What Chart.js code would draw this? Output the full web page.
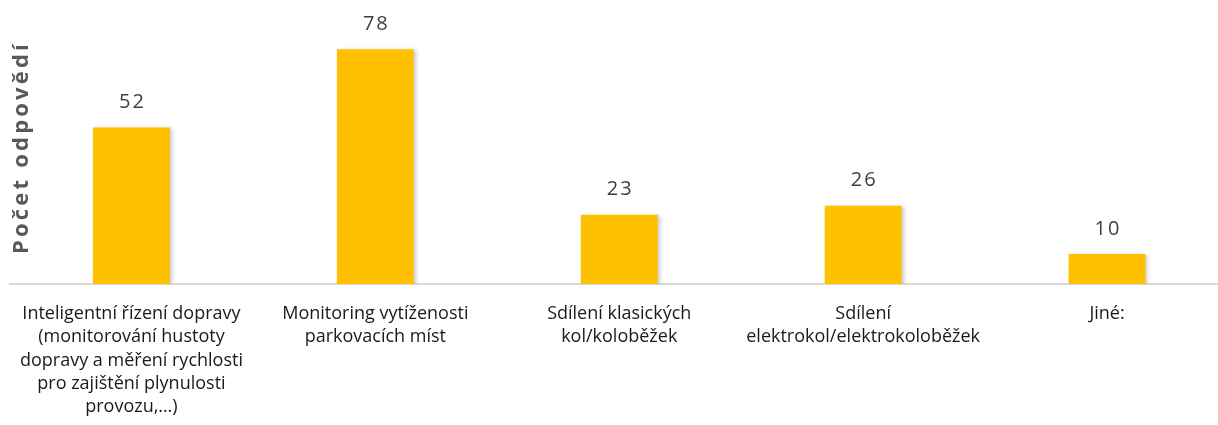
<!DOCTYPE html>
<html>
<head>
<meta charset="utf-8">
<script src="https://cdn.jsdelivr.net/npm/chart.js@4/dist/chart.umd.min.js"></script>
<style>
  html, body { margin: 0; padding: 0; background: #fff; overflow: hidden; }
  #wrap { width: 1240px; height: 425px; position: relative; }
</style>
</head>
<body>
<div id="wrap"><canvas id="c"></canvas></div>
<script>
const categories = [
  ["Inteligentní řízení dopravy", "(monitorování hustoty", "dopravy a měření rychlosti", "pro zajištění plynulosti", "provozu,…)"],
  ["Monitoring vytíženosti", "parkovacích míst"],
  ["Sdílení klasických", "kol/koloběžek"],
  ["Sdílení", "elektrokol/elektrokoloběžek"],
  ["Jiné:"]
];
const values = [52, 78, 23, 26, 10];
const yAxisTitle = "Počet odpovědí";
const yMax = 90;

const FONT = '"Open Sans", "Noto Sans", sans-serif';

const barShadow = {
  id: 'barShadow',
  beforeDatasetsDraw(chart) {
    const ctx = chart.ctx;
    ctx.save();
    ctx.shadowColor = 'rgba(0,0,0,0.22)';
    ctx.shadowBlur = 4;
    ctx.shadowOffsetX = 2;
    ctx.shadowOffsetY = 1;
  },
  afterDatasetsDraw(chart) {
    chart.ctx.restore();
  }
};

const valueLabels = {
  id: 'valueLabels',
  afterDatasetsDraw(chart) {
    const ctx = chart.ctx;
    const meta = chart.getDatasetMeta(0);
    ctx.save();
    ctx.font = '20px ' + FONT;
    ctx.fillStyle = '#404040';
    ctx.textAlign = 'center';
    ctx.textBaseline = 'middle';
    ctx.letterSpacing = '2px';
    meta.data.forEach((bar, i) => {
      ctx.fillText(String(chart.data.datasets[0].data[i]), bar.x + 1, bar.y - 25);
    });
    ctx.restore();
  }
};

const yTitle = {
  id: 'yTitle',
  afterDraw(chart) {
    const ctx = chart.ctx;
    const a = chart.chartArea;
    ctx.save();
    ctx.translate(22, (a.top + a.bottom) / 2);
    ctx.rotate(-Math.PI / 2);
    ctx.font = 'bold 22px ' + FONT;
    ctx.fillStyle = '#595959';
    ctx.textAlign = 'center';
    ctx.textBaseline = 'middle';
    ctx.letterSpacing = '3.2px';
    ctx.fillText(yAxisTitle, 1, 0);
    ctx.restore();
  }
};

new Chart(document.getElementById('c'), {
  type: 'bar',
  data: {
    labels: categories,
    datasets: [{
      data: values,
      backgroundColor: '#FFC000',
      borderWidth: 0,
      categoryPercentage: 1.0,
      barPercentage: 0.315
    }]
  },
  options: {
    responsive: true,
    maintainAspectRatio: false,
    animation: false,
    devicePixelRatio: 1,
    layout: { padding: { left: 9.5, right: 11, top: 13, bottom: 0 } },
    plugins: {
      legend: { display: false },
      tooltip: { enabled: false },
      title: { display: false }
    },
    scales: {
      x: {
        grid: { display: false, drawTicks: false },
        border: { display: true, color: '#d9d9d9', width: 2 },
        ticks: {
          color: '#1a1a1a',
          font: { family: FONT, size: 18, lineHeight: 1.3 },
          padding: 18,
          maxRotation: 0,
          autoSkip: false
        },
        afterFit(scale) { scale.height = 141; }
      },
      y: {
        display: false,
        min: 0,
        max: yMax
      }
    }
  },
  plugins: [barShadow, valueLabels, yTitle]
});
</script>
</body>
</html>
